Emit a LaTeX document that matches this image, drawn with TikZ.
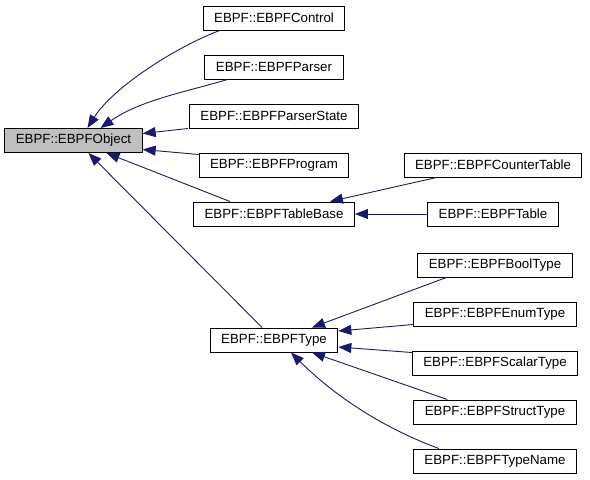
\documentclass[tikz,border=0pt]{standalone}
\usepackage{fontspec}
\setmainfont{Liberation Sans}
\usetikzlibrary{arrows.meta,positioning}
\definecolor{edgeblue}{RGB}{25,25,112}
\definecolor{basegray}{RGB}{191,191,191}
\begin{document}
\begin{tikzpicture}[x=1pt,y=-1pt,
  font=\fontsize{13.3}{16}\selectfont,
  cls/.style={draw=black,line width=1pt,fill=white,inner xsep=11pt,inner ysep=0pt,minimum height=24pt},
  base/.style={cls,fill=basegray},
  edge/.style={draw=edgeblue,line width=0.9pt,{Triangle[length=13pt,width=10pt]}-}]
\useasboundingbox (0,0) rectangle (590,480);
\node[base] (obj) at (73.5,140.5) {EBPF::EBPFObject};
\node[cls] (ctrl) at (274,18) {EBPF::EBPFControl};
\node[cls, below=24pt of ctrl] (parser) {EBPF::EBPFParser};
\node[cls, below=24pt of parser] (pstate) {EBPF::EBPFParserState};
\node[cls, below=24pt of pstate] (prog) {EBPF::EBPFProgram};
\node[cls, below=24pt of prog] (tbase) {EBPF::EBPFTableBase};
\node[cls] (ctable) at (493,165) {EBPF::EBPFCounterTable};
\node[cls, below=24pt of ctable] (table) {EBPF::EBPFTable};
\node[cls] (type) at (274,340) {EBPF::EBPFType};
\node[cls] (bool) at (495,265) {EBPF::EBPFBoolType};
\node[cls, below=24pt of bool] (enum) {EBPF::EBPFEnumType};
\node[cls, below=24pt of enum] (scalar) {EBPF::EBPFScalarType};
\node[cls, below=24pt of scalar] (struct) {EBPF::EBPFStructType};
\node[cls, below=24pt of struct] (tname) {EBPF::EBPFTypeName};
% inheritance edges, arrow at the base class
\draw[edge] ([xshift=14pt]obj.north) .. controls +(25,-40) and +(-45,17) .. ([xshift=17pt]ctrl.south west);
\draw[edge] ([xshift=27pt]obj.north) .. controls +(40,-28) and +(-40,12) .. ([xshift=23pt]parser.south west);
\draw[edge] ([yshift=7pt]obj.east) -- ([xshift=-1pt]pstate.south west);
\draw[edge] ([yshift=-9pt]obj.east) -- ([yshift=-2pt]prog.north west);
\draw[edge] ([xshift=33pt]obj.south) -- ([xshift=37pt]tbase.north west);
\draw[edge] ([xshift=15pt]obj.south) -- ([xshift=-12pt]type.north);
\draw[edge] ([xshift=56pt]tbase.north) -- ([xshift=33pt]ctable.south west);
\draw[edge] (tbase.east) -- (table.west);
\draw[edge] ([xshift=38pt]type.north) -- ([xshift=29pt]bool.south west);
\draw[edge] ([yshift=9pt]type.east) -- ([yshift=2pt]enum.south west);
\draw[edge] ([yshift=-7pt]type.east) -- ([yshift=-2pt]scalar.north west);
\draw[edge] ([xshift=38pt]type.south) -- ([xshift=34pt]struct.north west);
\draw[edge] ([xshift=17pt]type.south) .. controls +(40,40) and +(-60,-22) .. ([xshift=26pt]tname.north west);
\end{tikzpicture}
\end{document}
